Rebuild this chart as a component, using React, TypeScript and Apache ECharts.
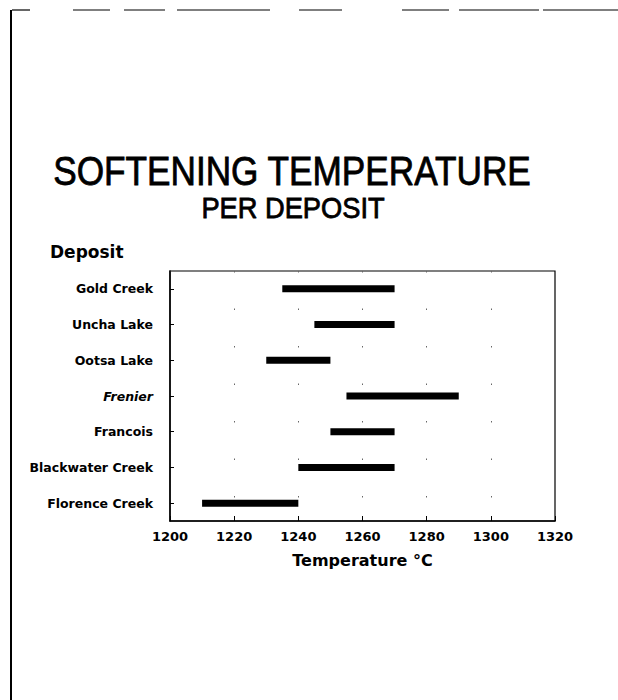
import React, { useEffect, useRef } from "react";
import * as echarts from "echarts";

const deposits = [
  "Gold Creek",
  "Uncha Lake",
  "Ootsa Lake",
  "Frenier",
  "Francois",
  "Blackwater Creek",
  "Florence Creek",
];
const lowTemps = [1235, 1245, 1230, 1255, 1250, 1240, 1210];
const highTemps = [1270, 1270, 1250, 1290, 1270, 1270, 1240];
const xTicks = [1200, 1220, 1240, 1260, 1280, 1300, 1320];

const TITLE_FONT = "'Liberation Sans', Arial, Helvetica, sans-serif";
const LABEL_FONT = "'DejaVu Sans', Verdana, sans-serif";

const topBorderSegments: [number, number][] = [
  [12, 30],
  [73, 110],
  [124, 165],
  [177, 270],
  [299, 342],
  [402, 449],
  [459, 539],
  [543, 618],
];

export default function App() {
  const ref = useRef<HTMLDivElement>(null);
  useEffect(() => {
    if (!ref.current) return;
    const chart = echarts.init(ref.current, null, { renderer: "svg" });
    chart.setOption({
      animation: false,
      backgroundColor: "#ffffff",
      textStyle: { fontFamily: LABEL_FONT },
      grid: { left: 170, right: 63, top: 271, bottom: 179, containLabel: false },
      xAxis: {
        type: "value",
        min: xTicks[0],
        max: xTicks[xTicks.length - 1],
        interval: 20,
        name: "Temperature °C",
        nameLocation: "middle",
        nameGap: 31,
        nameTextStyle: { fontFamily: LABEL_FONT, fontSize: 16, fontWeight: "bold", color: "#000" },
        axisLine: { show: true, lineStyle: { color: "#000", width: 1.5 } },
        axisTick: { show: true, inside: true, length: 5, lineStyle: { color: "#000" } },
        axisLabel: {
          fontFamily: LABEL_FONT,
          fontSize: 13,
          fontWeight: "bold",
          color: "#000",
          margin: 9,
          formatter: (v: number) => String(v),
        },
        splitLine: {
          show: true,
          lineStyle: { color: "#666", width: 1, type: [1.5, 36] },
        },
      },
      yAxis: {
        type: "category",
        data: deposits,
        inverse: true,
        axisLine: { show: true, lineStyle: { color: "#000", width: 1.5 } },
        axisTick: { show: true, inside: true, alignWithLabel: true, length: 4, lineStyle: { color: "#000" } },
        axisLabel: {
          fontFamily: LABEL_FONT,
          fontSize: 12.5,
          fontWeight: "bold",
          color: "#000",
          margin: 17,
          formatter: (v: string) => (v === "Frenier" ? "{it|" + v + "}" : v),
          rich: {
            it: { fontFamily: LABEL_FONT, fontSize: 12.5, fontWeight: "bold", fontStyle: "italic", color: "#000" },
          },
        },
        splitLine: { show: false },
      },
      series: [
        {
          type: "bar",
          stack: "range",
          data: lowTemps,
          barWidth: 7,
          itemStyle: { color: "transparent" },
          silent: true,
        },
        {
          type: "bar",
          stack: "range",
          data: highTemps.map((h, i) => h - lowTemps[i]),
          barWidth: 7,
          itemStyle: { color: "#000" },
        },
      ],
      graphic: [
        {
          type: "text",
          x: 292,
          y: 171,
          scaleX: 0.88,
          silent: true,
          style: {
            text: "SOFTENING TEMPERATURE",
            fontFamily: TITLE_FONT,
            fontSize: 40,
            fill: "#000",
            stroke: "#000",
            lineWidth: 0.8,
            textAlign: "center",
            textVerticalAlign: "middle",
          },
        },
        {
          type: "text",
          x: 293,
          y: 208,
          scaleX: 0.94,
          silent: true,
          style: {
            text: "PER DEPOSIT",
            fontFamily: TITLE_FONT,
            fontSize: 29,
            fill: "#000",
            stroke: "#000",
            lineWidth: 0.8,
            textAlign: "center",
            textVerticalAlign: "middle",
          },
        },
        {
          type: "text",
          x: 50,
          y: 252,
          silent: true,
          style: {
            text: "Deposit",
            fontFamily: LABEL_FONT,
            fontSize: 17,
            fontWeight: "bold",
            fill: "#000",
            textAlign: "left",
            textVerticalAlign: "middle",
          },
        },
        {
          type: "rect",
          shape: { x: 170, y: 271, width: 385, height: 250 },
          style: { fill: "none", stroke: "#000", lineWidth: 1.2 },
          silent: true,
        },
        ...topBorderSegments.map(([a, b]) => ({
          type: "line",
          shape: { x1: a, y1: 10, x2: b, y2: 10 },
          style: { stroke: "#000", lineWidth: 1.2 },
          silent: true,
        })),
        {
          type: "line",
          shape: { x1: 11, y1: 10, x2: 11, y2: 700 },
          style: { stroke: "#000", lineWidth: 2 },
          silent: true,
        },
      ],
    });
    return () => chart.dispose();
  }, []);
  return (
    <div
      ref={ref}
      style={{ position: "fixed", left: 0, top: 0, width: 618, height: 700 }}
    />
  );
}
